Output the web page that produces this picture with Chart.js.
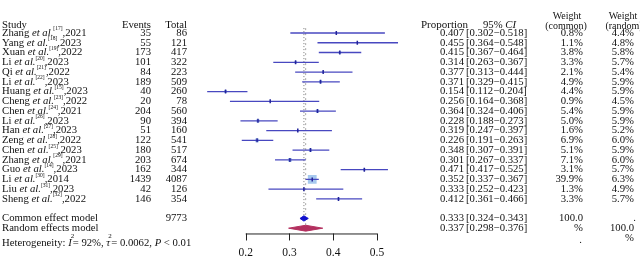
<!DOCTYPE html>
<html><head><meta charset="utf-8">
<script src="https://cdn.jsdelivr.net/npm/chart.js@4"></script>
<style>html,body{margin:0;padding:0;background:#fff;}canvas{display:block;}</style>
</head><body>
<canvas id="c" width="640" height="258"></canvas>
<script>
const studies = ["Zhang","Yang","Xuan","Li","Qi","Li","Huang","Cheng","Chen","Li","Han","Zeng","Chen","Zhang","Guo","Li","Liu","Sheng"];
const refs = ["17","18","19","20","21","22","15","23","24","26","27","28","25","29","14","30","31","32"];
const years = ["2021","2023","2022","2023","2022","2023","2023","2022","2021","2023","2023","2022","2023","2021","2023","2014","2023","2022"];
const events = [35,55,173,101,84,189,40,20,204,90,51,122,180,203,162,1439,42,146];
const totals = [86,121,417,322,223,509,260,78,560,394,160,541,517,674,344,4087,126,354];
const prop = [0.407,0.455,0.415,0.314,0.377,0.371,0.154,0.256,0.364,0.228,0.319,0.226,0.348,0.301,0.471,0.352,0.333,0.412];
const lower = [0.302,0.364,0.367,0.263,0.313,0.329,0.112,0.164,0.324,0.188,0.247,0.191,0.307,0.267,0.417,0.337,0.252,0.361];
const upper = [0.518,0.548,0.464,0.367,0.444,0.415,0.204,0.368,0.406,0.273,0.397,0.263,0.391,0.337,0.525,0.367,0.423,0.466];
const wCommon = ["0.8","1.1","3.8","3.3","2.1","4.9","4.4","0.9","5.4","5.0","1.6","6.9","5.1","7.1","3.1","39.9","1.3","3.3"];
const wRandom = ["4.4","4.8","5.8","5.7","5.4","5.9","5.9","4.5","5.9","5.9","5.2","6.0","5.9","6.0","5.7","6.3","4.9","5.7"];
const commonEst = 0.333, commonLo = 0.324, commonHi = 0.343, commonTotal = 9773;
const randomEst = 0.337, randomLo = 0.298, randomHi = 0.376;
const axisTicks = [0.2, 0.3, 0.4, 0.5];
const heterogeneity = {I2: "92%", tau2: "0.0062", p: "< 0.01"};

const SERIF = '"Liberation Serif","Times New Roman",serif';
const FS = 10.7;
const rowCommon = studies.length + 2, rowRandom = studies.length + 3;

const datasets = [];
datasets.push({data:[{x:commonEst,y:0.5},{x:commonEst,y:rowCommon-0.3}], showLine:true, pointRadius:0,
  borderColor:'#7a7a7a', borderWidth:1, borderDash:[1,2], order:20});
datasets.push({data:[{x:randomEst,y:0.5},{x:randomEst,y:rowRandom-0.3}], showLine:true, pointRadius:0,
  borderColor:'#a8a8a8', borderWidth:1, borderDash:[2,3], order:21});
datasets.push({data: prop.map((p,i)=>({x:p,y:i+1})), pointStyle:'rect',
  pointRadius: wCommon.map(w=> 8.8*Math.sqrt(parseFloat(w)/39.9)/1.414),
  backgroundColor:'#a6c9ee', borderWidth:0, order:10});
prop.forEach((p,i)=>{
  datasets.push({data:[{x:lower[i],y:i+1},{x:upper[i],y:i+1}], showLine:true, pointRadius:0,
    borderColor:'#4848c0', borderWidth:1.3, order:5});
});
datasets.push({data: prop.map((p,i)=>({x:p,y:i+1})), pointStyle:'line', rotation:90, pointRadius:2,
  borderColor:'#23239a', borderWidth:1.5, backgroundColor:'#23239a', order:1});
function diamond(lo,est,hi,row,h){return [{x:lo,y:row},{x:est,y:row-h},{x:hi,y:row},{x:est,y:row+h},{x:lo,y:row}];}
datasets.push({data:diamond(commonLo,commonEst,commonHi,rowCommon,0.27), showLine:true, pointRadius:0, fill:'shape',
  backgroundColor:'#1010cc', borderColor:'#1010cc', borderWidth:1, tension:0, order:2});
datasets.push({data:diamond(randomLo,randomEst,randomHi,rowRandom,0.3), showLine:true, pointRadius:0, fill:'shape',
  backgroundColor:'#b3305f', borderColor:'#b3305f', borderWidth:1, tension:0, order:2});

function font(size, italic){return (italic?'italic ':'')+size+'px '+SERIF;}
function rich(ctx,x,y,segs){
  ctx.textAlign='left'; ctx.textBaseline='middle';
  segs.forEach(s=>{
    ctx.font = font(s.size||FS, s.it);
    ctx.fillText(s.t, x + (s.dx||0), y + (s.dy||0));
    x += (s.adv!==undefined) ? s.adv : ctx.measureText(s.t).width;
  });
}
function txt(ctx,t,x,y,align,size,it){ctx.font=font(size||FS,it);ctx.textAlign=align||'left';ctx.textBaseline='middle';ctx.fillText(t,x,y);}

const textPlugin = {
  id:'forestText',
  afterDraw(chart){
    const ctx = chart.ctx, xs = chart.scales.x, ys = chart.scales.y;
    const Y = v => ys.getPixelForValue(v);
    ctx.save(); ctx.fillStyle='#111';
    txt(ctx,'Study',2,Y(0.16));
    txt(ctx,'Events',151,Y(0.16),'right');
    txt(ctx,'Total',187,Y(0.16),'right');
    txt(ctx,'Proportion',421,Y(0.16),'left',11);
    rich(ctx,483,Y(0.16),[{t:'95% '},{t:'CI',it:true}]);
    txt(ctx,'Weight',567,Y(-0.75),'center',10);
    txt(ctx,'(common)',566,Y(0.27),'center',10);
    txt(ctx,'Weight',623,Y(-0.75),'center',10);
    txt(ctx,'(random)',624,Y(0.27),'center',10);
    studies.forEach((s,i)=>{
      const y = Y(i+1);
      rich(ctx,2,y,[{t:s+' '},{t:'et al.',it:true},{t:'['+refs[i]+']',size:5.5,dy:-4},{t:','+years[i]}]);
      txt(ctx,String(events[i]),151,y,'right');
      txt(ctx,String(totals[i]),187,y,'right');
      txt(ctx,prop[i].toFixed(3),464,y,'right');
      txt(ctx,'['+lower[i].toFixed(3)+'\u2212'+upper[i].toFixed(3)+']',466,y);
      txt(ctx,wCommon[i]+'%',583,y,'right');
      txt(ctx,wRandom[i]+'%',634,y,'right');
    });
    let y = Y(rowCommon);
    txt(ctx,'Common effect model',2,y);
    txt(ctx,String(commonTotal),187,y,'right');
    txt(ctx,commonEst.toFixed(3),464,y,'right');
    txt(ctx,'['+commonLo.toFixed(3)+'\u2212'+commonHi.toFixed(3)+']',466,y);
    txt(ctx,'100.0',583,y,'right');
    txt(ctx,'.',636,y,'right');
    y = Y(rowRandom);
    txt(ctx,'Random effects model',2,y);
    txt(ctx,randomEst.toFixed(3),464,y,'right');
    txt(ctx,'['+randomLo.toFixed(3)+'\u2212'+randomHi.toFixed(3)+']',466,y);
    txt(ctx,'%',583,y,'right');
    txt(ctx,'100.0',634,y,'right');
    txt(ctx,'%',634,Y(rowRandom+1),'right');
    txt(ctx,'.',582,Y(rowRandom+1.2),'right');
    rich(ctx,2,Y(rowRandom+1.5),[
      {t:'Heterogeneity: '},{t:'I',it:true},{t:'2',size:7,dy:-7,dx:-1,adv:1},{t:'= '+heterogeneity.I2+', '},
      {t:'\u03c4',it:true},{t:'2',size:7,dy:-7,dx:-2,adv:1},{t:'= '+heterogeneity.tau2+', '},
      {t:'P',it:true},{t:' '+heterogeneity.p}
    ]);
    const ay = Y(21.54);
    ctx.strokeStyle='#222'; ctx.lineWidth=1;
    ctx.beginPath();
    ctx.moveTo(xs.getPixelForValue(axisTicks[0]),ay+0.5);
    ctx.lineTo(xs.getPixelForValue(axisTicks[axisTicks.length-1]),ay+0.5);
    axisTicks.forEach(t=>{const px=Math.round(xs.getPixelForValue(t))+0.5; ctx.moveTo(px,ay); ctx.lineTo(px,ay+7);});
    ctx.stroke();
    axisTicks.forEach(t=>txt(ctx,t.toFixed(1),xs.getPixelForValue(t),Y(23.5),'center',11.5));
    ctx.restore();
  }
};

new Chart(document.getElementById('c'),{
  type:'scatter',
  data:{datasets},
  options:{
    responsive:false, animation:false, devicePixelRatio:1,
    layout:{padding:{left:201.93,right:219.22,top:23.24,bottom:20.04}},
    plugins:{legend:{display:false},tooltip:{enabled:false}},
    scales:{
      x:{type:'linear',min:0.1,max:0.6,display:false},
      y:{type:'linear',min:0,max:22,reverse:true,display:false}
    }
  },
  plugins:[textPlugin]
});
</script>
</body></html>
